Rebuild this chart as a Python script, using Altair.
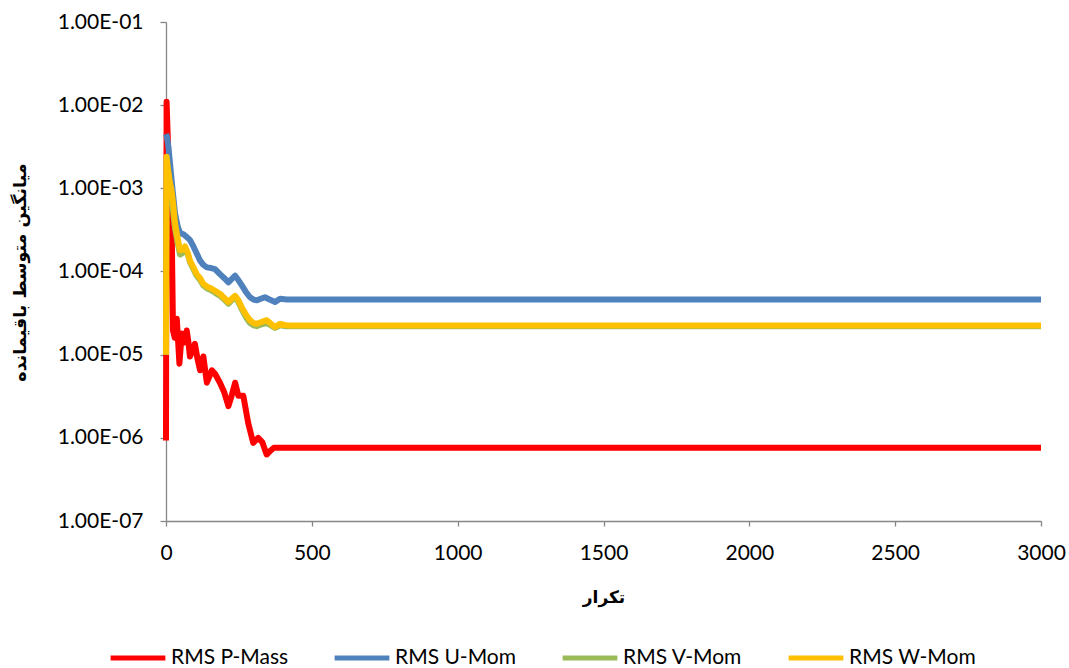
import altair as alt
import pandas as pd

# ---- data (iteration, RMS residual) ----
p_mass_x = [0, 2, 8, 14, 20, 24, 30, 37, 46, 54, 62, 71, 77, 82, 90, 99, 108, 117, 128,
            140, 150, 157, 168, 185, 200, 214, 225, 237, 248, 265, 282, 299, 316, 330,
            345, 360, 370, 3000]
p_mass_y = [9.3e-7, 1.1e-2, 2.5e-3, 5.0e-4, 2.5e-4, 1.95e-5, 1.6e-5, 2.7e-5, 7.8e-6,
            1.8e-5, 1.4e-5, 1.95e-5, 1.4e-5, 9.5e-6, 1.1e-5, 1.35e-5, 8.9e-6, 6.5e-6,
            9.5e-6, 4.6e-6, 5.6e-6, 6.5e-6, 5.9e-6, 4.6e-6, 3.5e-6, 2.4e-6, 3.2e-6,
            4.6e-6, 3.2e-6, 3.2e-6, 1.5e-6, 8.7e-7, 1.0e-6, 8.9e-7, 6.3e-7, 7.1e-7,
            7.6e-7, 7.6e-7]

u_mom_x = [0, 3, 8, 15, 22, 31, 40, 48, 60, 71, 82, 94, 105, 117, 128, 140, 155, 168,
           185, 200, 214, 225, 237, 248, 260, 275, 288, 300, 311, 325, 339, 355, 374,
           391, 414, 3000]
u_mom_y = [4.5e-3, 4.2e-3, 3.2e-3, 1.8e-3, 1.0e-3, 5.0e-4, 3.5e-4, 2.9e-4, 2.8e-4,
           2.6e-4, 2.4e-4, 2.0e-4, 1.66e-4, 1.35e-4, 1.2e-4, 1.12e-4, 1.1e-4, 1.07e-4,
           9.3e-5, 8.3e-5, 7.4e-5, 8.1e-5, 8.9e-5, 7.9e-5, 6.8e-5, 5.6e-5, 4.9e-5,
           4.6e-5, 4.5e-5, 4.7e-5, 4.9e-5, 4.6e-5, 4.3e-5, 4.7e-5, 4.6e-5, 4.6e-5]

v_mom_x = [0, 2, 6, 12, 19, 25, 31, 40, 48, 56, 65, 75, 82, 94, 105, 117, 128, 140,
           157, 170, 185, 200, 214, 225, 237, 248, 260, 275, 288, 300, 311, 325, 345,
           360, 374, 391, 414, 3000]
v_mom_y = [1.0e-5, 2.2e-3, 1.6e-3, 1.1e-3, 8.3e-4, 5.0e-4, 3.3e-4, 2.2e-4, 1.6e-4,
           1.66e-4, 1.86e-4, 1.6e-4, 1.3e-4, 1.07e-4, 8.9e-5, 7.9e-5, 6.8e-5, 6.3e-5,
           5.9e-5, 5.5e-5, 5.1e-5, 4.6e-5, 4.1e-5, 4.5e-5, 4.9e-5, 4.3e-5, 3.5e-5,
           2.8e-5, 2.4e-5, 2.25e-5, 2.2e-5, 2.3e-5, 2.4e-5, 2.25e-5, 2.1e-5, 2.25e-5,
           2.2e-5, 2.2e-5]

w_mom_x = [0, 2, 6, 12, 19, 25, 31, 40, 48, 56, 65, 75, 82, 94, 105, 117, 128, 140,
           157, 170, 185, 200, 214, 225, 237, 248, 260, 275, 288, 300, 311, 325, 345,
           360, 374, 391, 414, 3000]
w_mom_y = [1.0e-5, 2.4e-3, 1.8e-3, 1.26e-3, 9.5e-4, 6.3e-4, 3.8e-4, 2.5e-4, 1.8e-4,
           1.82e-4, 2.0e-4, 1.66e-4, 1.35e-4, 1.12e-4, 9.3e-5, 8.3e-5, 7.1e-5, 6.6e-5,
           6.2e-5, 5.8e-5, 5.4e-5, 4.8e-5, 4.3e-5, 4.7e-5, 5.1e-5, 4.5e-5, 3.7e-5,
           3.0e-5, 2.6e-5, 2.4e-5, 2.35e-5, 2.45e-5, 2.6e-5, 2.35e-5, 2.15e-5, 2.35e-5,
           2.25e-5, 2.25e-5]

series_names = ["RMS P-Mass", "RMS U-Mom", "RMS V-Mom", "RMS W-Mom"]
series_colors = ["#FF0000", "#4F81BD", "#9BBB59", "#FFC000"]
x_ticks = [0, 500, 1000, 1500, 2000, 2500, 3000]
y_ticks = [1e-7, 1e-6, 1e-5, 1e-4, 1e-3, 1e-2, 1e-1]

rows = []
for name, xs, ys in zip(series_names,
                        [p_mass_x, u_mom_x, v_mom_x, w_mom_x],
                        [p_mass_y, u_mom_y, v_mom_y, w_mom_y]):
    for xv, yv in zip(xs, ys):
        rows.append({"iter": xv, "rms": yv, "series": name})
df = pd.DataFrame(rows)

AX = "#868686"

chart = alt.Chart(df).mark_line(strokeWidth=6, strokeJoin="round").encode(
    x=alt.X("iter:Q",
            scale=alt.Scale(domain=[0, 3000], nice=False),
            axis=alt.Axis(values=x_ticks, title="تکرار", format="d",
                          grid=False, domainColor=AX, domainWidth=1.3,
                          tickColor=AX, tickWidth=1.3, tickSize=5,
                          labelFont="Lato", labelFontSize=21, labelColor="#000000",
                          labelPadding=16, labelFlush=False,
                          titleFont="DejaVu Sans", titleFontSize=17, titleFontWeight="bold",
                          titleColor="#000000", titleX=437.5, titleY=76,
                          titleAlign="center", titleBaseline="middle")),
    y=alt.Y("rms:Q",
            scale=alt.Scale(type="log", domain=[1e-7, 1e-1], nice=False),
            axis=alt.Axis(values=y_ticks, title="میانگین متوسط باقیمانده",
                          labelExpr="'1.00E-' + (round(-log(datum.value)/LN10) < 10 ? '0' : '') + round(-log(datum.value)/LN10)",
                          grid=False, domainColor=AX, domainWidth=1.3,
                          tickColor=AX, tickWidth=1.3, tickSize=6,
                          labelFont="Lato", labelFontSize=21, labelColor="#000000",
                          labelPadding=17, labelFlush=False,
                          titleFont="DejaVu Sans", titleFontSize=17.5, titleFontWeight="bold",
                          titleColor="#000000", titleAngle=270, titleX=-146, titleY=250,
                          titleAlign="center", titleBaseline="middle")),
    color=alt.Color("series:N",
                    scale=alt.Scale(domain=series_names, range=series_colors),
                    legend=alt.Legend(title=None, orient="none", legendX=-58, legendY=606,
                                      direction="horizontal", symbolType="stroke",
                                      symbolStrokeWidth=5, symbolSize=3000,
                                      labelFont="Lato", labelFontSize=21,
                                      labelColor="#000000", columnPadding=35,
                                      labelOffset=3, labelLimit=0)),
).properties(
    width=875, height=499,
    autosize=alt.AutoSizeParams(type="none"),
    padding={"left": 166, "top": 22, "right": 28, "bottom": 147},
    background="#FFFFFF",
).configure_view(stroke=None)

chart.save("out.html", embed_options={"renderer": "svg", "actions": False})
